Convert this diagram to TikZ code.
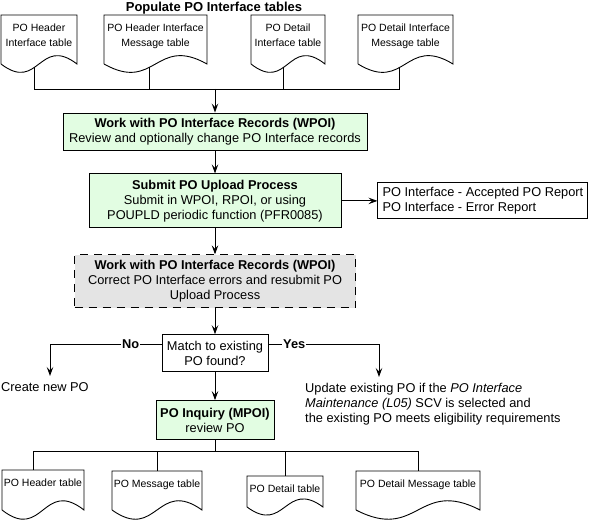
\documentclass[tikz,border=0pt]{standalone}
\usepackage{fontspec}
\setmainfont{Liberation Sans}
\usepackage{xcolor}
\usetikzlibrary{positioning,arrows.meta}
\definecolor{PoGreen}{HTML}{E2FDE2}
\definecolor{PoGray}{HTML}{E4E4E4}
\newcommand{\bodysize}{\fontsize{12.8}{15}\selectfont}
\newcommand{\docsize}{\fontsize{10.5}{15}\selectfont}
% name, left, right, top, bottom, wave, text
\newcommand{\podoc}[7]{%
  \draw[docline] (#2,#5) -- (#2,#4) -- (#3,#4) -- (#3,#5)
    .. controls +({(#2-#3)/2},-#6) and +({(#3-#2)/2},#6) .. (#2,#5)
    coordinate[pos=0.58] (#1-w);
  \coordinate (#1-n) at ({(#2+#3)/2},#4);
  \node[doctext, anchor=north] (#1) at ({(#2+#3)/2},{#4+8.5}) {#7};
}

\begin{document}
\begin{tikzpicture}[
  x=1pt, y=-1pt,
  font=\bodysize,
  box/.style={draw=black, line width=0.9pt, fill=PoGreen, align=center, inner sep=2pt},
  note/.style={draw=black, line width=0.9pt, fill=white, align=left, inner sep=3pt},
  doctext/.style={font=\docsize, align=center, inner sep=0pt},
  docline/.style={draw=black, line width=0.9pt},
  conn/.style={line width=0.9pt},
  arrow/.style={-{Stealth[length=9pt,width=6.5pt,inset=3.5pt]}, line width=0.9pt},
  lbl/.style={font=\bodysize\bfseries, inner xsep=1pt, inner ysep=0pt}
]
\useasboundingbox (0,0) rectangle (590,521);
\node[font=\fontsize{13}{15}\selectfont\bfseries] (title) at (214,8) {Populate PO Interface tables};
\podoc{hdrI}{1}{77}{15}{64}{29}{PO Header\\Interface table}
\podoc{hdrM}{104}{207}{15}{64}{29}{PO Header Interface\\Message table}
\podoc{dtlI}{251}{325}{15}{64}{29}{PO Detail\\Interface table}
\podoc{dtlM}{358}{453}{15}{64}{29}{PO Detail Interface\\Message table}
\coordinate (topbus) at (215,89);
\draw[conn] (hdrI-w) -- (hdrI-w |- topbus);
\draw[conn] (hdrM-w) -- (hdrM-w |- topbus);
\draw[conn] (dtlI-w) -- (dtlI-w |- topbus);
\draw[conn] (dtlM-w) -- (dtlM-w |- topbus);
\draw[conn] (hdrI-w |- topbus) -- (dtlM-w |- topbus);

\node[box, minimum width=304pt, minimum height=37pt] (wpoi) at (215,131.5) {\textbf{Work with PO Interface Records (WPOI)}\\Review and optionally change PO Interface records};
\node[box, minimum width=252pt, minimum height=54pt, below=23pt of wpoi] (submit) {\textbf{Submit PO Upload Process}\\Submit in WPOI, RPOI, or using\\POUPLD periodic function (PFR0085)};
\node[note, minimum width=210pt, minimum height=36pt, right=36pt of submit] (report) {PO Interface - Accepted PO Report\\PO Interface - Error Report};
\node[box, fill=PoGray, dash pattern=on 8pt off 6pt, minimum width=281pt, minimum height=53pt, below=26pt of submit] (fix) {\textbf{Work with PO Interface Records (WPOI)}\\Correct PO Interface errors and resubmit PO\\Upload Process};
\node[box, fill=white, minimum width=106pt, minimum height=37pt, below=26pt of fix] (match) {Match to existing\\PO found?};
\node[box, minimum width=118pt, minimum height=39pt, below=28pt of match] (inq) {\textbf{PO Inquiry (MPOI)}\\review PO};

\draw[arrow] (topbus) -- (wpoi.north);
\draw[arrow] (wpoi) -- (submit);
\draw[arrow] (submit) -- (report);
\draw[arrow] (submit) -- (fix);
\draw[arrow] (fix) -- (match);
\draw[arrow] (match) -- (inq);

\node[lbl, anchor=west] (nolbl) at (121,344) {No\hspace{10pt}};
\node[lbl, anchor=west] (yeslbl) at (282,344) {Yes\hspace{12pt}};
\node[anchor=north west, inner sep=0pt] (newpo) at (1,382) {Create new PO};
\node[anchor=north west, align=left, inner sep=0pt] (update) at (305,383) {Update existing PO if the \textit{PO Interface}\\\textit{Maintenance (L05)} SCV is selected and\\the existing PO meets eligibility requirements};
\coordinate (noend) at (50,376);
\coordinate (yesend) at (379,377);
\draw[conn] (match.west |- nolbl) -- (nolbl.east);
\draw[arrow] (nolbl.west) -| (noend);
\draw[conn] (match.east |- yeslbl) -- (yeslbl.west);
\draw[arrow] (yeslbl.east) -| (yesend);

\podoc{pohdr}{2}{84}{470}{510}{32}{PO Header table}
\podoc{pomsg}{112}{202}{471}{510}{32}{PO Message table}
\podoc{podtl}{247}{323}{476}{507}{28}{PO Detail table}
\podoc{podtm}{356}{480}{471}{510}{32}{PO Detail Message table}
\coordinate (botbus) at (215,451);
\draw[conn] (inq.south) -- (inq.south |- botbus);
\draw[conn] ([xshift=-10pt]pohdr-n) -- ([xshift=-10pt]pohdr-n |- botbus);
\draw[conn] (pomsg-n) -- (pomsg-n |- botbus);
\draw[conn] (podtl-n) -- (podtl-n |- botbus);
\draw[conn] (podtm-n) -- (podtm-n |- botbus);
\draw[conn] ([xshift=-10pt]pohdr-n |- botbus) -- (podtm-n |- botbus);
\end{tikzpicture}
\end{document}
